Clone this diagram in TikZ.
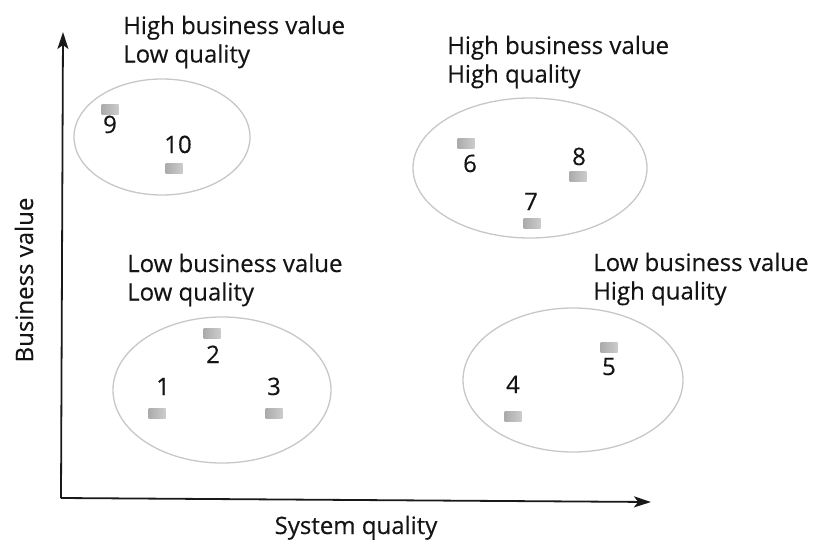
\documentclass[tikz,border=0pt]{standalone}
\usepackage{fontspec}
\setmainfont{Open Sans}[FakeBold=0.35]
\usetikzlibrary{arrows.meta,shapes.geometric}

\begin{document}
\begin{tikzpicture}[x=1pt,y=-1pt,
  axis/.style={line width=1.8pt, draw=black!90,
    -{Stealth[length=17pt,width=11pt,inset=4pt]}},
  group/.style={draw=black!22, line width=1.3pt, ellipse, inner sep=0pt},
  grouplabel/.style={anchor=base west, align=left, inner sep=0pt,
    font=\fontsize{24}{28.5}\selectfont, text=black!92},
  axislabel/.style={anchor=base, inner sep=0pt,
    font=\fontsize{24}{28}\selectfont, text=black!92},
  sysnum/.style={anchor=base, inner sep=0pt,
    font=\fontsize{24}{28}\selectfont, text=black!92},
  sysmark/.style={minimum width=17pt, minimum height=10pt, inner sep=0pt,
    left color=black!33, right color=black!20, draw=none}
]
\useasboundingbox (0,0) rectangle (816,546);

% axes
\coordinate (origin) at (61,498);
\coordinate (ytip) at (63,32);
\coordinate (xtip) at (651,502);
\draw[axis] (origin) -- (ytip);
\draw[axis] (origin) -- (xtip);
\node[axislabel] (xlabel) at (356,534) {System quality};
\node[axislabel, rotate=90] (ylabel) at (33,280) {Business value};

% quadrant groups
\node[group, minimum width=176pt, minimum height=116pt] (ghl) at (162,137) {};
\node[group, minimum width=234pt, minimum height=140pt] (ghh) at (530,168) {};
\node[group, minimum width=218pt, minimum height=146pt] (gll) at (222,390) {};
\node[group, minimum width=220pt, minimum height=144pt] (glh) at (573,380) {};

% labels are placed by the baseline of their second line
\node[grouplabel] (lhl) at (123,62.5)  {High business value\\Low quality};
\node[grouplabel] (lhh) at (447,82.5)  {High business value\\High quality};
\node[grouplabel] (lll) at (127,300.5) {Low business value\\Low quality};
\node[grouplabel] (llh) at (593,299.5) {Low business value\\High quality};

% systems: marker and number
\node[sysmark] (s9)  at (110,109) {};
\node[sysnum]  (n9)  at (110,133) {9};
\node[sysmark] (s10) at (174,168) {};
\node[sysnum]  (n10) at (178,153) {10};

\node[sysmark] (s6)  at (466,143) {};
\node[sysnum]  (n6)  at (470,172) {6};
\node[sysmark] (s8)  at (578,176) {};
\node[sysnum]  (n8)  at (579,165) {8};
\node[sysmark] (s7)  at (532,223) {};
\node[sysnum]  (n7)  at (531,210) {7};

\node[sysmark] (s2)  at (212,333) {};
\node[sysnum]  (n2)  at (213,363) {2};
\node[sysmark] (s1)  at (157,413) {};
\node[sysnum]  (n1)  at (163,395) {1};
\node[sysmark] (s3)  at (274,413) {};
\node[sysnum]  (n3)  at (274,395) {3};

\node[sysmark] (s5)  at (609,347) {};
\node[sysnum]  (n5)  at (609,375) {5};
\node[sysmark] (s4)  at (513,416) {};
\node[sysnum]  (n4)  at (513,393) {4};
\end{tikzpicture}
\end{document}
